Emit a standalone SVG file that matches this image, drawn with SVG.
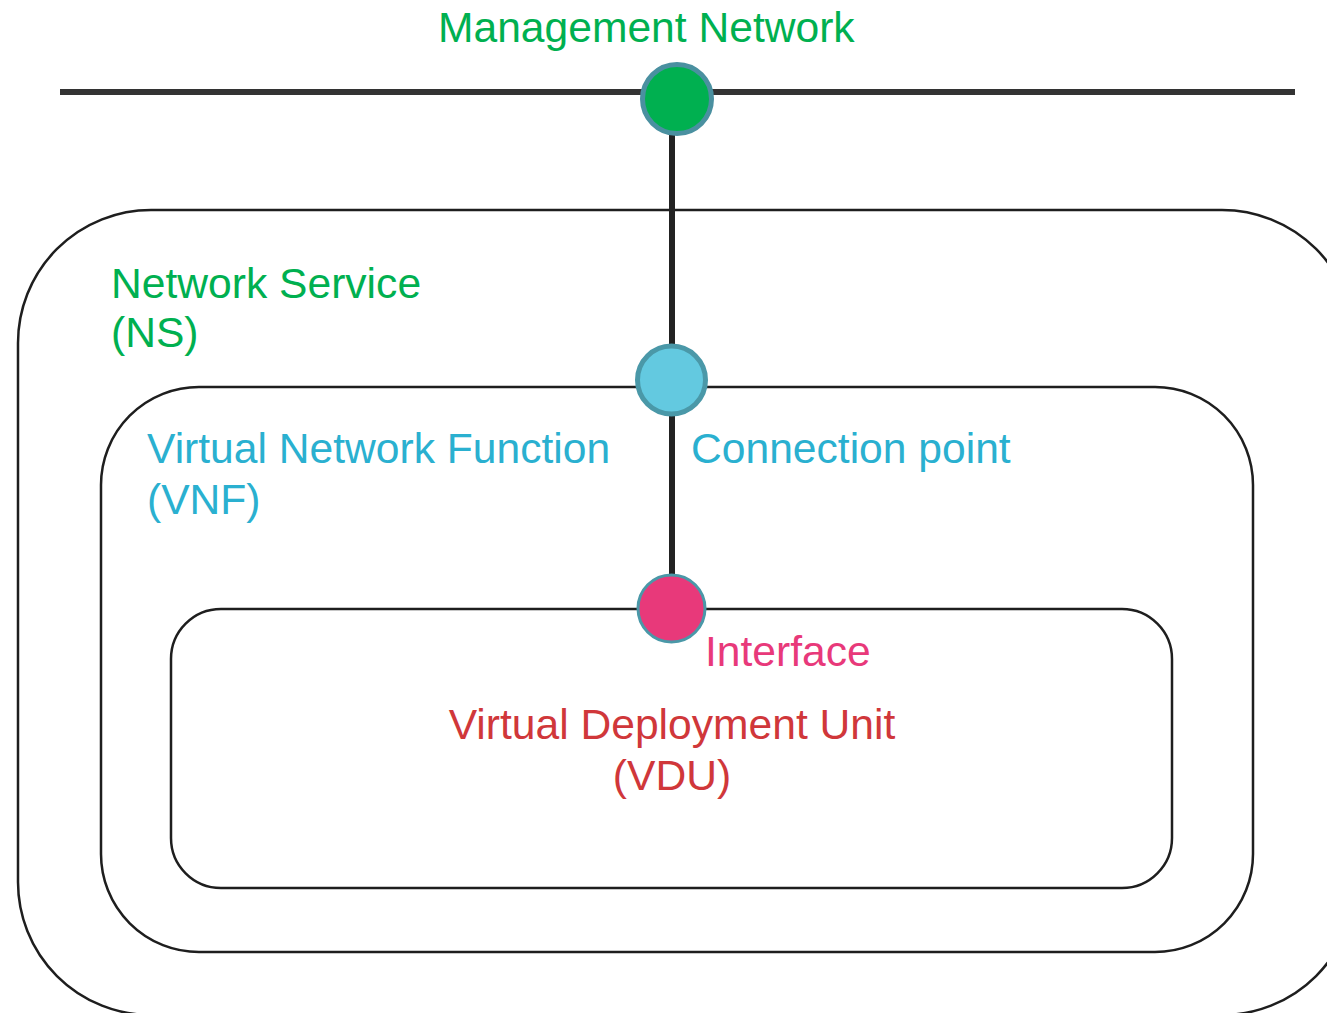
<svg xmlns="http://www.w3.org/2000/svg" width="1327" height="1013" viewBox="0 0 1327 1013">
  <style>
    text { font-family: "Liberation Sans", Arial, sans-serif; font-size: 42.6px; }
    .box { fill: none; stroke: #1e1e1e; stroke-width: 2.5; }
    .green { fill: #00b050; }
    .cyan { fill: #2ab0d0; }
    .pink { fill: #e8397a; }
    .red { fill: #d0373a; }
    .wire { stroke: #222; stroke-width: 6; fill: none; }
  </style>
  <rect width="1327" height="1013" fill="#ffffff"/>

  <!-- Management network bus -->
  <g id="management-network">
    <line x1="60" y1="92" x2="1295" y2="92" stroke="#333" stroke-width="6"/>
    <text x="438" y="42" class="green">Management Network</text>
  </g>

  <!-- Nested containers -->
  <g id="network-service">
    <rect class="box" x="18" y="210" width="1337" height="805" rx="133" ry="133"/>
    <text x="111" y="298" class="green">Network Service</text>
    <text x="111" y="347" class="green">(NS)</text>
  </g>

  <g id="vnf">
    <rect class="box" x="101" y="387" width="1152" height="565" rx="98" ry="98"/>
    <text x="147" y="463" class="cyan">Virtual Network Function</text>
    <text x="147" y="514" class="cyan">(VNF)</text>
  </g>

  <g id="vdu">
    <rect class="box" x="171" y="609" width="1001" height="279" rx="50" ry="50"/>
    <text x="672" y="739" class="red" text-anchor="middle">Virtual Deployment Unit</text>
    <text x="672" y="790" class="red" text-anchor="middle">(VDU)</text>
  </g>

  <!-- Connectors -->
  <g id="connectors">
    <line class="wire" x1="672" y1="100" x2="672" y2="380"/>
    <line class="wire" x1="672" y1="380" x2="672" y2="608"/>
  </g>

  <!-- Attachment points -->
  <g id="mgmt-port">
    <circle cx="677" cy="99" r="34.5" fill="#00b050" stroke="#4a90a0" stroke-width="5"/>
  </g>

  <g id="connection-point">
    <circle cx="671.5" cy="380" r="34" fill="#63c9e0" stroke="#4a98a8" stroke-width="5"/>
    <text x="691" y="463" class="cyan">Connection point</text>
  </g>

  <g id="interface">
    <circle cx="671.5" cy="608.5" r="33.5" fill="#e8397a" stroke="#4a98a8" stroke-width="3"/>
    <text x="705" y="666" class="pink">Interface</text>
  </g>
</svg>
